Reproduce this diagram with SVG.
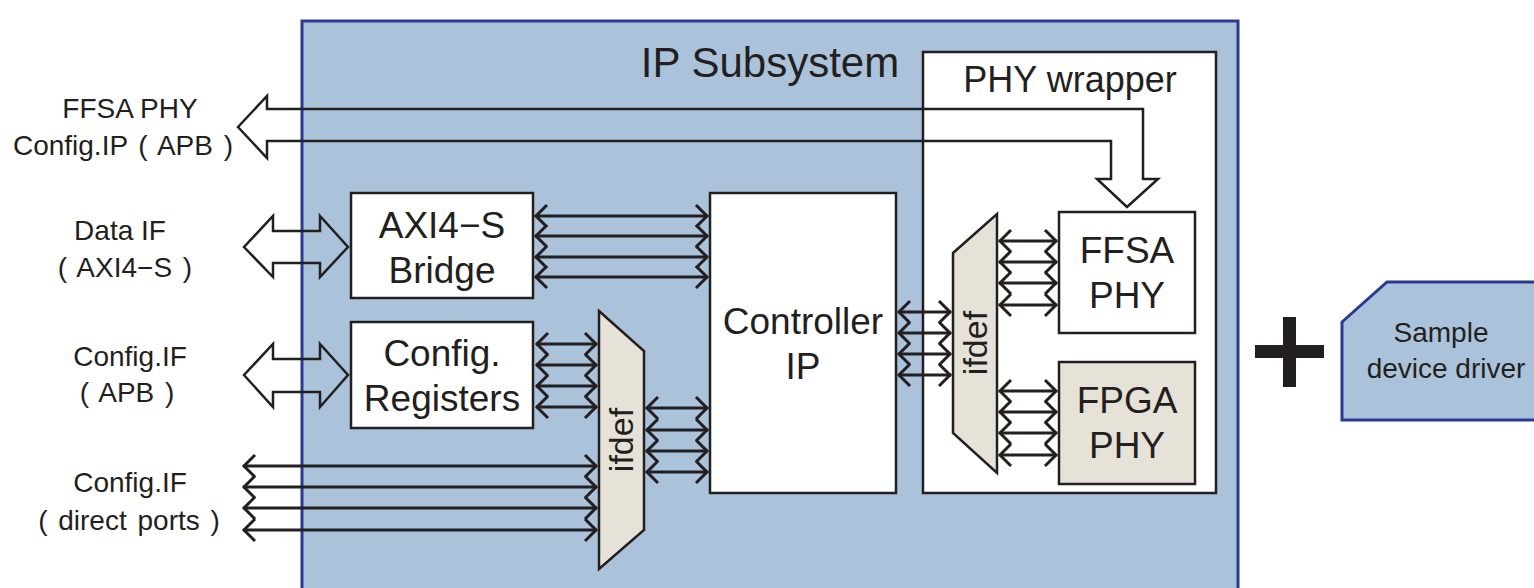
<svg xmlns="http://www.w3.org/2000/svg" width="1534" height="588" viewBox="0 0 1534 588">
<style>
text{font-family:"Liberation Sans",Arial,sans-serif;fill:#231f20}
.box{fill:#fff;stroke:#231f20;stroke-width:2.5}
.beige{fill:#e6e2d8;stroke:#231f20;stroke-width:2.5}
.blue{fill:#abc3da;stroke:#2b3990;stroke-width:3}
.bus line{stroke:#231f20;stroke-width:3;marker-start:url(#ah);marker-end:url(#ah)}
.fat{fill:none;stroke:#231f20;stroke-width:2.5;stroke-linejoin:miter}
.lbl{font-size:28px;text-anchor:middle}
.nd{font-size:37px;text-anchor:middle}
</style>
<defs>
<marker id="ah" viewBox="-14 -13 17 26" refX="1" refY="0" markerWidth="17" markerHeight="26" markerUnits="userSpaceOnUse" orient="auto-start-reverse">
<path d="M-11,-11 L0,0 L-11,11" fill="none" stroke="#231f20" stroke-width="3"/>
</marker>
</defs>
<rect width="1534" height="588" fill="#fff"/>
<g id="ip-subsystem">
<rect class="blue" x="302" y="21" width="936" height="590"/>
<text x="770" y="77" font-size="42" text-anchor="middle">IP Subsystem</text>
</g>
<g id="phy-wrapper">
<rect class="box" x="923" y="52" width="293" height="441"/>
<text x="1070" y="92" font-size="36" text-anchor="middle">PHY wrapper</text>
</g>
<g id="axi4s-bridge">
<rect class="box" x="351" y="193" width="182" height="105"/>
<text class="nd" x="442" y="238">AXI4−S</text>
<text class="nd" x="442" y="283">Bridge</text>
</g>
<g id="config-registers">
<rect class="box" x="351" y="322" width="182" height="106"/>
<text class="nd" x="442" y="366">Config.</text>
<text class="nd" x="442" y="411">Registers</text>
</g>
<g id="ifdef-left">
<polygon class="beige" points="599,311 644,351 644,530 599,569"/>
<text x="621" y="440" font-size="34" text-anchor="middle" dominant-baseline="central" transform="rotate(-90 621 440)">ifdef</text>
</g>
<g id="controller-ip">
<rect class="box" x="710" y="193" width="186" height="300"/>
<text class="nd" x="803" y="334">Controller</text>
<text class="nd" x="803" y="379">IP</text>
</g>
<g id="ifdef-phy">
<polygon class="beige" points="953,253 997,214 997,473 953,433"/>
<text x="975" y="343" font-size="34" text-anchor="middle" dominant-baseline="central" transform="rotate(-90 975 343)">ifdef</text>
</g>
<g id="ffsa-phy">
<rect class="box" x="1059" y="212" width="136" height="121"/>
<text class="nd" x="1127" y="263">FFSA</text>
<text class="nd" x="1127" y="308">PHY</text>
</g>
<g id="fpga-phy">
<rect class="beige" x="1059" y="362" width="136" height="122"/>
<text class="nd" x="1127" y="413">FPGA</text>
<text class="nd" x="1127" y="458">PHY</text>
</g>
<g id="plus">
<rect x="1283" y="317" width="13" height="70" fill="#231f20"/>
<rect x="1255" y="345" width="69" height="13" fill="#231f20"/>
</g>
<g id="sample-driver">
<path class="blue" d="M1342,322 L1387,282 L1540,282 L1540,420 L1342,420 Z"/>
<text x="1441" y="342" font-size="28" text-anchor="middle">Sample</text>
<text x="1446" y="378" font-size="28" text-anchor="middle">device driver</text>
</g>
<g id="labels">
<text class="lbl" x="130" y="118">FFSA PHY</text>
<text class="lbl" x="123" y="155" word-spacing="3">Config.IP ( APB )</text>
<text class="lbl" x="120" y="240">Data IF</text>
<text class="lbl" x="125" y="277" word-spacing="3">( AXI4−S )</text>
<text class="lbl" x="130" y="366">Config.IF</text>
<text class="lbl" x="127" y="402" word-spacing="3">( APB )</text>
<text class="lbl" x="130" y="492">Config.IF</text>
<text class="lbl" x="129" y="530" word-spacing="3">( direct ports )</text>
</g>
<g id="connectors">
<path class="fat" d="M238,127 L267,96 L267,109 L1143,109 L1143,179 L1158,179 L1127,207 L1097,179 L1111,179 L1111,141 L267,141 L267,158 Z"/>
<path class="fat" d="M244,247 L273,216 L273,231 L320,231 L320,216 L348,247 L320,277 L320,263 L273,263 L273,277 Z"/>
<path class="fat" d="M244,375 L273,344 L273,359 L320,359 L320,344 L348,375 L320,407 L320,392 L273,392 L273,407 Z"/>
<g class="bus">
<line x1="535" y1="216" x2="708" y2="216"/>
<line x1="535" y1="236" x2="708" y2="236"/>
<line x1="535" y1="257" x2="708" y2="257"/>
<line x1="535" y1="277" x2="708" y2="277"/>
<line x1="536" y1="344" x2="597" y2="344"/>
<line x1="536" y1="365" x2="597" y2="365"/>
<line x1="536" y1="386" x2="597" y2="386"/>
<line x1="536" y1="407" x2="597" y2="407"/>
<line x1="646" y1="408" x2="708" y2="408"/>
<line x1="646" y1="430" x2="708" y2="430"/>
<line x1="646" y1="451" x2="708" y2="451"/>
<line x1="646" y1="472" x2="708" y2="472"/>
<line x1="243" y1="466" x2="597" y2="466"/>
<line x1="243" y1="487" x2="597" y2="487"/>
<line x1="243" y1="508" x2="597" y2="508"/>
<line x1="243" y1="530" x2="597" y2="530"/>
<line x1="898" y1="312" x2="951" y2="312"/>
<line x1="898" y1="333" x2="951" y2="333"/>
<line x1="898" y1="354" x2="951" y2="354"/>
<line x1="898" y1="375" x2="951" y2="375"/>
<line x1="999" y1="241" x2="1057" y2="241"/>
<line x1="999" y1="262" x2="1057" y2="262"/>
<line x1="999" y1="283" x2="1057" y2="283"/>
<line x1="999" y1="305" x2="1057" y2="305"/>
<line x1="999" y1="391" x2="1057" y2="391"/>
<line x1="999" y1="412" x2="1057" y2="412"/>
<line x1="999" y1="433" x2="1057" y2="433"/>
<line x1="999" y1="455" x2="1057" y2="455"/>
</g>
</g>
</svg>
